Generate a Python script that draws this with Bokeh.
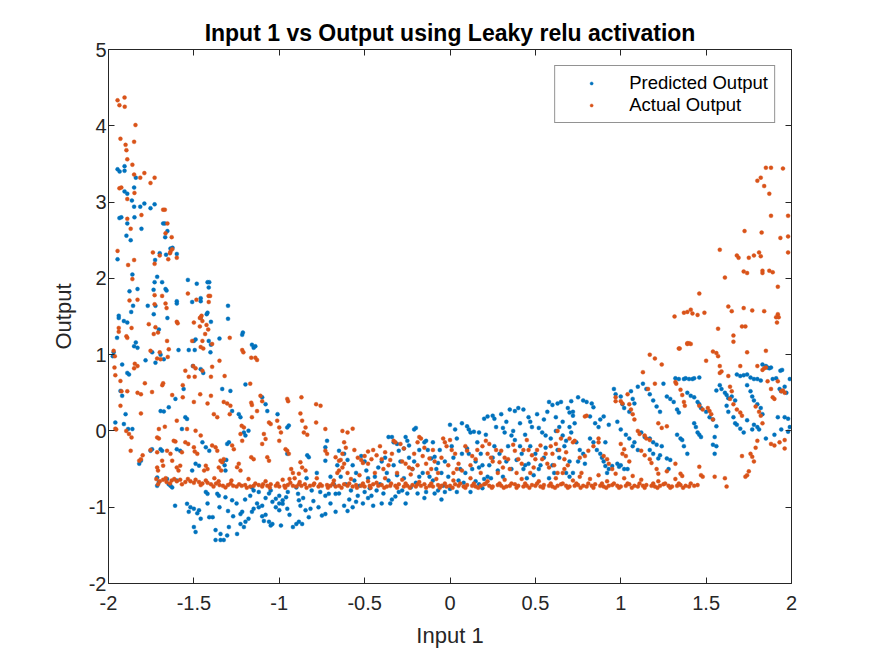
from bokeh.plotting import figure
from bokeh.models import Range1d, FixedTicker, LinearAxis, ColumnDataSource
from bokeh.embed import file_html
from bokeh.resources import INLINE

title_text = "Input 1 vs Output using Leaky relu activation"
x_label = "Input 1"
y_label = "Output"
series_names = ["Predicted Output", "Actual Output"]
series_colors = ["#0072BD", "#D95319"]
x_ticks = [-2, -1.5, -1, -0.5, 0, 0.5, 1, 1.5, 2]
x_tick_labels = ["-2", "-1.5", "-1", "-0.5", "0", "0.5", "1", "1.5", "2"]
y_ticks = [-2, -1, 0, 1, 2, 3, 4, 5]
y_tick_labels = ["-2", "-1", "0", "1", "2", "3", "4", "5"]

# Predicted output (blue), (input 1, output) pairs
pred_left = [
    (-1.947,3.43),(-1.935,3.40),(-1.906,3.47),(-1.906,3.41),(-1.84,3.32),(-1.85,3.19),(-1.906,3.14),(-1.89,3.11),
    (-1.863,3.02),(-1.85,2.94),(-1.814,2.94),(-1.79,2.98),(-1.754,2.92),(-1.73,2.97),(-1.936,2.79),(-1.925,2.80),
    (-1.89,2.72),(-1.848,2.80),(-1.807,2.65),(-1.895,2.56),(-1.87,2.50),(-1.68,2.72),(-1.67,2.72),(-1.655,2.62),
    (-1.668,2.54),(-1.637,2.39),(-1.625,2.40),(-1.663,2.31),(-1.60,2.32),(-1.70,2.33),(-1.727,2.24),(-1.947,2.25),
    (-1.86,2.05),(-1.715,2.02),(-1.73,1.95),(-1.686,1.95),(-1.535,1.98),(-1.483,1.93),(-1.42,1.95),(-1.41,1.95),
    (-1.413,1.88),(-1.877,1.83),(-1.83,1.86),(-1.666,1.86),(-1.66,1.84),(-1.736,1.85),(-1.60,1.70),(-1.60,1.67),
    (-1.51,1.69),(-1.46,1.74),(-1.46,1.70),(-1.77,1.64),(-1.725,1.64),(-1.856,1.64),(-1.867,1.56),(-1.94,1.51),
    (-1.42,1.55),(-1.425,1.53),(-1.30,1.64),(-1.735,1.53),(-1.655,1.48),(-1.30,1.47),
    (-1.94,1.48),(-1.91,1.44),(-1.89,1.42),(-1.95,1.22),(-1.85,1.11),(-1.84,1.16),(-1.83,1.09),(-1.97,1.03),
    (-1.975,0.98),(-1.92,0.87),(-1.89,0.76),(-1.88,0.74),(-1.783,0.925),(-1.744,1.03),(-1.695,1.00),(-1.676,0.94),
    (-1.725,0.895),(-1.705,1.33),(-1.50,1.18),(-1.49,1.20),(-1.495,1.06),(-1.53,1.06),(-1.59,1.06),(-1.46,1.48),
    (-1.40,1.43),(-1.413,1.18),(-1.40,1.13),(-1.35,1.21),(-1.403,1.03),(-1.506,0.85),(-1.46,0.81),(-1.445,0.76),
    (-1.56,0.55),(-1.608,0.42),(-1.647,0.31),(-1.695,0.26),(-1.676,0.255),(-1.93,0.525),(-1.92,0.46),(-1.90,0.22),
    (-1.96,0.11),(-1.91,0.09),(-1.885,0.025),(-1.86,0.025),(-1.82,-0.43),(-1.81,-0.39),(-1.754,-0.26),(-1.745,-0.24),
    (-1.695,-0.24),(-1.686,-0.26),(-1.715,-0.61),(-1.715,-0.72),(-1.705,-0.67),(-1.657,-0.63),(-1.647,-0.70),(-1.60,-0.65),
    (-1.61,-0.98),(-1.54,-0.955),(-1.52,-1.0),(-1.50,-1.02),(-1.53,-1.06),(-1.48,-1.08),(-1.47,-1.04),(-1.50,-1.26),
    (-1.49,-1.325),(-1.46,-1.15),(-1.41,-1.13),(-1.39,-1.13),(-1.373,-1.30),(-1.344,-1.35),(-1.373,-1.43),(-1.344,-1.43),
    (-1.325,-1.43),(-1.305,-1.37),(-1.295,-1.26),(-1.247,-1.35),(-1.227,-1.22),(-1.207,-1.26),(-1.198,-1.19),(-1.227,-1.09),
    (-1.217,-1.06),(-1.16,-1.06),(-1.15,-1.02),(-1.10,-1.12),(-1.08,-1.10),(-1.09,-1.18),(-1.06,-1.19),(-1.05,-1.24),
    (-1.04,-1.22),(-1.17,-0.85),(-1.16,-0.74),(-1.15,-0.78),(-1.04,-0.93),(-1.02,-0.89),(-1.0,-0.85),(-0.98,-0.91),
    (-0.96,-0.87),(-1.02,-1.0),(-1.0,-1.04),(-0.98,-0.955),(-0.953,-1.02),(-0.99,-1.24),(-0.92,-1.26),(-0.90,-1.22),
    (-0.885,-1.19),(-0.866,-1.22),(-0.90,-0.74),(-0.89,-0.825),(-0.885,-0.91),(-0.876,-0.98),(-0.846,-1.04),(-0.827,-1.13),
    (-0.817,-1.02),(-0.77,-1.0),(-0.75,-1.11),(-0.73,-1.09),(-0.67,-1.06),(-0.81,-0.78),(-0.73,-0.85),(-0.71,-0.825),
    (-0.67,-0.825),(-0.836,-0.32),(-0.827,-0.345),(-0.73,-0.39),(-0.65,-0.26),(-0.72,-0.13),(-0.73,-0.215),(-0.953,-0.30),
    (-0.944,0.07),(-0.953,0.046),(-1.01,0.22),(-1.07,0.26),(-1.08,0.35),(-1.10,0.44),(-1.16,1.13),(-1.15,1.09),
    (-1.14,1.11),(-1.217,1.26),(-1.213,1.29),(-1.198,0.61),(-1.276,0.26),(-1.286,0.525),(-1.334,0.55),(-1.237,0.22),
    (-1.227,0.18),(-1.18,0.003),(-1.207,-0.02),(-1.198,-0.06),(-1.295,-0.15),(-1.305,-0.17),(-1.33,-0.40),(-1.32,-0.45),
    (-1.31,-0.38),(-1.315,-0.52),(-1.45,-0.15),(-1.43,-0.215),(-1.41,-0.26),(-1.57,0.025),(-1.55,0.18),(-1.54,0.157),
    (-1.60,-0.24),(-1.58,-0.26),(-1.49,-0.43),(-1.47,-0.455),(-1.51,-0.52),(-1.637,-0.72),(-1.627,-0.74),(-1.43,-0.80),
    (-1.42,-0.825),(-1.354,-0.85),(-1.363,-0.825),(-1.315,-0.87),(-1.276,-0.91),(-1.25,-0.95),(-1.20,-0.90),(-1.13,-0.95),
    (-1.10,-0.98),(-1.08,-0.88),(-1.12,-0.80),(-1.05,-0.78),(-1.30,-1.05),(-1.35,-1.0),(-1.27,-1.12),(-1.42,-0.95),
    (-0.78,-0.55),(-0.70,-0.60),(-0.66,-0.45),
    (-1.12,-1.0),(-1.0,-0.95),(-0.94,-1.1),(-0.86,-0.88),(-0.80,-0.92),(-0.76,-0.80),(-0.70,-0.95),(-0.68,-0.70),
    (-1.06,-0.82),(-1.18,-1.15),(-0.95,-0.80),(-0.84,-0.62),
]
pred_mid = [
    (-0.65,-0.82),(-0.62,-0.98),(-0.60,-1.05),(-0.57,-1.0),(-0.55,-0.93),(-0.54,-0.85),(-0.59,-0.90),
    (-0.62,-0.30),(-0.60,-0.38),(-0.57,-0.45),(-0.55,-0.55),(-0.52,-0.33),(-0.50,-0.40),(-0.49,-0.52),(-0.48,-0.62),
    (-0.47,-0.75),(-0.46,-0.85),(-0.45,-0.98),(-0.48,-0.88),(-0.43,-0.78),(-0.40,-0.95),(-0.39,-0.82),
    (-0.36,-0.08),(-0.34,-0.08),(-0.33,-0.15),(-0.31,-0.17),(-0.30,-0.26),(-0.27,-0.23),(-0.26,-0.08),(-0.25,-0.13),
    (-0.24,-0.19),(-0.35,-0.95),(-0.34,-0.90),(-0.32,-0.86),(-0.30,-0.80),(-0.28,-0.78),(-0.25,-0.82),(-0.23,-0.74),
    (-0.19,-0.82),(-0.21,0.02),(-0.20,0.04),(-0.15,-0.15),(-0.14,-0.13),(-0.11,-0.36),(-0.09,-0.34),(-0.07,-0.42),
    (-0.09,-0.82),(-0.07,-0.78),(-0.04,-0.72),(-0.03,-0.80),(0.0,-0.76),(0.04,-0.80),
    (0.0,0.08),(0.03,0.02),(0.07,0.10),(0.10,0.06),(0.12,-0.02),(0.14,-0.01),(0.17,-0.02),
    (0.10,-0.23),(0.11,-0.30),(0.15,-0.40),(0.17,-0.48),(0.19,-0.45),(0.15,-0.66),(0.17,-0.70),(0.20,-0.63),(0.22,-0.60),
    (0.20,0.16),(0.22,0.19),(0.25,0.20),(0.26,0.16),(0.30,0.22),(0.31,0.04),(0.32,-0.02),(0.36,-0.06),(0.38,-0.12),
    (0.41,-0.20),(0.35,0.28),(0.38,0.26),(0.40,0.30),(0.43,0.28),(0.46,0.18),(0.47,0.12),
    (0.43,-0.50),(0.44,-0.45),(0.46,-0.43),(0.49,-0.58),(0.52,-0.50),(0.52,0.04),(0.54,-0.02),(0.56,-0.06),
    (0.58,0.38),(0.60,0.34),(0.63,0.36),(0.65,0.38),(0.62,0.18),(0.64,0.05),(0.66,-0.06),(0.68,-0.13),(0.70,0.24),(0.72,0.20),
    (-0.40,-0.40),(-0.37,-0.55),(-0.22,-0.50),(-0.18,-0.60),(-0.05,-0.55),(0.02,-0.35),(0.06,-0.50),(0.25,-0.35),
    (0.28,-0.52),(0.33,-0.40),(0.55,-0.35),(0.60,-0.45),(0.63,-0.25),(0.58,-0.62),(0.68,-0.55),(0.70,-0.40),
    (-0.10,-0.65),(-0.15,-0.88),(0.08,-0.68),(0.12,-0.80),
    (-0.64,-0.60),(-0.61,-0.70),(-0.58,-0.78),(-0.56,-0.65),(-0.53,-0.72),(-0.51,-0.95),(-0.50,-0.80),(-0.44,-0.60),
    (-0.42,-0.48),(-0.41,-0.70),(-0.38,-0.35),(-0.36,-0.65),(-0.33,-0.45),(-0.31,-0.58),(-0.29,-0.40),(-0.27,-0.62),
    (-0.26,-0.95),(-0.24,-0.35),(-0.21,-0.40),(-0.20,-0.68),(-0.18,-0.25),(-0.16,-0.55),(-0.14,-0.80),(-0.13,-0.25),
    (-0.12,-0.60),(-0.10,-0.15),(-0.08,-0.50),(-0.06,-0.25),(-0.05,-0.90),(-0.03,-0.40),(-0.01,-0.60),(0.01,-0.20),
    (0.04,-0.10),(0.05,-0.65),(0.07,-0.30),(0.09,-0.55),(0.11,0.02),(0.13,-0.50),(0.16,-0.15),(0.18,-0.30),
    (0.19,-0.75),(0.21,-0.05),(0.23,-0.45),(0.24,-0.62),(0.26,-0.20),(0.27,0.05),(0.29,-0.30),(0.31,-0.60),
    (0.33,0.12),(0.34,-0.20),(0.36,-0.50),(0.37,0.00),(0.39,-0.38),(0.41,0.10),(0.42,-0.30),(0.44,-0.05),
    (0.45,-0.62),(0.47,-0.20),(0.48,0.05),(0.50,-0.30),(0.51,0.22),(0.53,-0.45),(0.55,0.15),(0.56,-0.22),
    (0.57,0.25),(0.59,-0.10),(0.61,-0.55),(0.62,0.00),(0.64,-0.35),(0.66,0.12),(0.67,-0.20),(0.69,0.30),(0.70,-0.60),
]
pred_right = [
    (0.71,0.39),(0.72,0.25),(0.70,0.05),(0.71,-0.02),(0.73,0.10),(0.75,0.44),(0.78,0.40),(0.80,0.38),(0.84,0.31),
    (0.83,0.36),(0.74,-0.15),(0.76,-0.25),(0.78,-0.30),(0.75,-0.40),(0.79,-0.43),(0.72,-0.55),(0.82,0.19),(0.85,0.10),
    (0.87,0.05),(0.88,0.15),(0.90,0.19),(0.93,0.08),(0.82,-0.10),(0.84,-0.15),(0.86,-0.25),(0.88,-0.30),(0.89,-0.35),
    (0.91,-0.15),(0.90,-0.40),(0.92,-0.55),(0.93,-0.50),(0.96,0.55),(0.97,0.48),(1.00,0.45),(1.01,0.35),(1.02,0.30),
    (1.05,0.25),(1.06,0.52),(1.07,0.42),(1.08,0.36),(0.98,0.12),(1.00,0.02),(1.03,-0.05),(1.05,-0.10),(1.07,-0.20),
    (1.08,-0.15),(1.10,-0.25),(0.98,-0.43),(1.00,-0.45),(1.02,-0.50),(1.04,-0.50),(1.10,0.58),(1.13,0.62),(1.15,0.55),
    (1.17,0.48),(1.19,0.40),(1.21,0.32),(1.23,0.25),(1.25,0.62),(1.12,-0.02),(1.14,-0.08),(1.17,-0.10),(1.19,-0.15),
    (1.21,-0.18),(1.24,-0.20),(1.17,-0.25),(1.19,-0.30),(1.22,-0.36),(1.23,-0.32),(1.27,-0.36),(1.29,-0.38),
    (1.27,0.45),(1.29,0.42),(1.31,0.38),(1.33,0.28),(1.34,0.24),(1.33,-0.05),(1.35,-0.10),(1.36,-0.12),(1.37,-0.20),
    (1.39,-0.30),(1.32,0.69),(1.34,0.68),(1.37,0.68),(1.38,0.69),(1.40,0.68),(1.42,0.68),(1.43,0.69),(1.46,0.70),
    (1.39,0.50),(1.41,0.46),(1.43,0.44),(1.45,0.38),(1.46,0.35),(1.47,0.30),(1.43,0.10),(1.44,0.05),(1.45,-0.02),
    (1.46,-0.05),(1.47,-0.08),(1.50,0.25),(1.52,0.18),(1.54,0.15),(1.56,0.06),(1.55,-0.08),(1.56,-0.20),(1.54,-0.18),
    (1.56,0.53),(1.58,0.60),(1.59,0.55),(1.61,0.50),(1.62,0.47),(1.63,0.43),(1.65,0.45),(1.67,0.40),(1.62,0.33),
    (1.63,0.25),(1.66,0.18),(1.67,0.10),(1.68,0.08),(1.70,0.03),(1.72,-0.02),(1.68,0.74),(1.70,0.72),(1.72,0.73),
    (1.74,0.74),(1.76,0.70),(1.78,0.68),(1.80,0.68),(1.82,0.66),(1.74,0.60),(1.76,0.52),(1.77,0.45),(1.78,0.40),
    (1.80,0.35),(1.82,0.30),(1.83,0.22),(1.74,0.14),(1.78,0.08),(1.80,0.05),(1.81,0.02),(1.77,0.02),(1.83,0.87),
    (1.85,0.85),(1.86,0.83),(1.87,0.82),(1.88,0.83),(1.89,0.68),(1.91,0.69),(1.93,0.55),(1.94,0.52),(1.96,0.58),
    (1.97,0.50),(1.99,0.68),(1.92,0.18),(1.96,0.18),(1.98,0.16),(1.94,0.02),(1.98,-0.01),(1.935,0.79),(1.945,0.80),
    (1.85,-0.10),(1.90,-0.05),(1.99,0.05),(0.91,-0.46),(0.95,-0.46),(0.99,-0.47),(1.28,-0.50),(1.55,-0.30),
]

# Actual output (orange)
act_left = [
    (-1.947,4.334),(-1.906,4.37),(-1.936,4.27),(-1.905,4.25),(-1.842,4.01),(-1.93,3.83),(-1.85,3.79),(-1.90,3.75),
    (-1.895,3.68),(-1.89,3.56),(-1.86,3.49),(-1.85,3.36),(-1.814,3.32),(-1.79,3.38),(-1.73,3.32),(-1.754,3.25),
    (-1.936,3.18),(-1.925,3.19),(-1.848,3.12),(-1.89,3.04),(-1.807,2.83),(-1.89,2.78),(-1.68,2.90),(-1.67,2.90),
    (-1.655,2.72),(-1.87,2.65),(-1.666,2.59),(-1.63,2.54),(-1.637,2.35),(-1.64,2.33),(-1.65,2.25),(-1.627,2.38),
    (-1.60,2.27),(-1.947,2.36),(-1.74,2.34),(-1.70,2.30),(-1.73,2.19),(-1.85,2.24),(-1.885,2.175),(-1.86,1.99),
    (-1.877,1.71),(-1.83,1.72),(-1.73,1.78),(-1.686,1.77),(-1.73,1.66),(-1.666,1.67),(-1.66,1.61),(-1.535,1.80),
    (-1.485,1.72),(-1.414,1.77),(-1.405,1.77),(-1.413,1.69),(-1.46,1.49),(-1.455,1.51),
    (-1.94,1.35),(-1.94,1.30),(-1.865,1.35),(-1.895,1.24),(-1.89,1.22),(-1.764,1.40),(-1.725,1.36),(-1.71,1.29),
    (-1.735,1.27),(-1.657,1.18),(-1.60,1.43),(-1.595,1.41),(-1.50,1.42),(-1.465,1.48),(-1.45,1.44),(-1.465,1.37),
    (-1.426,1.39),(-1.416,1.33),(-1.434,1.27),(-1.45,1.18),(-1.445,1.08),(-1.46,1.10),(-1.393,1.14),(-1.29,1.22),
    (-1.51,1.18),(-1.97,1.05),(-1.963,0.98),(-1.965,0.83),(-1.96,0.73),(-1.846,0.88),(-1.85,0.82),(-1.83,0.85),
    (-1.754,1.05),(-1.70,1.03),(-1.715,0.95),(-1.695,0.94),(-1.653,0.97),(-1.647,1.07),(-1.504,0.85),(-1.49,0.82),
    (-1.55,0.79),(-1.53,0.71),(-1.495,0.71),(-1.45,0.79),(-1.393,0.84),(-1.40,0.71),(-1.35,0.92),(-1.32,0.72),
    (-1.217,1.06),(-1.21,1.03),(-1.164,0.96),(-1.14,0.96),(-1.13,0.93),(-1.17,0.62),(-1.164,0.37),(-1.16,0.34),
    (-1.787,0.625),(-1.83,0.50),(-1.81,0.48),(-1.745,0.51),(-1.68,0.625),(-1.685,0.60),(-1.93,0.655),(-1.924,0.52),
    (-1.89,0.52),(-1.93,0.33),(-1.81,0.23),(-1.565,0.60),(-1.565,0.44),(-1.627,0.47),(-1.50,0.38),(-1.463,0.48),
    (-1.40,0.46),(-1.42,0.36),(-1.383,0.22),(-1.363,0.18),(-1.325,0.38),(-1.305,0.36),(-1.286,0.33),(-1.29,0.22),
    (-1.96,0.03),(-1.955,0.02),(-1.896,0.00),(-1.865,-0.085),(-1.88,-0.04),(-1.87,-0.26),(-1.81,-0.37),(-1.82,-0.39),
    (-1.80,-0.32),(-1.754,-0.25),(-1.715,-0.28),(-1.715,-0.48),(-1.71,-0.52),(-1.686,-0.39),(-1.68,-0.455),(-1.657,-0.26),
    (-1.627,-0.39),(-1.637,-0.30),(-1.60,-0.48),(-1.59,-0.52),(-1.58,-0.455),(-1.618,-0.13),(-1.608,-0.14),(-1.60,0.135),
    (-1.67,0.055),(-1.705,0.025),(-1.715,-0.085),(-1.705,-0.10),(-1.55,-0.15),(-1.533,-0.17),(-1.57,-0.28),(-1.54,0.025),
    (-1.49,0.003),(-1.46,-0.06),(-1.50,-0.215),(-1.495,-0.27),(-1.48,-0.30),(-1.43,-0.455),(-1.42,-0.50),(-1.44,-0.52),
    (-1.393,-0.19),(-1.373,-0.215),(-1.363,-0.26),(-1.344,-0.39),(-1.334,-0.41),(-1.325,-0.37),(-1.354,-0.48),(-1.34,-0.52),
    (-1.276,-0.19),(-1.266,-0.24),(-1.237,-0.43),(-1.247,-0.475),(-1.227,-0.52),(-1.217,-0.13),(-1.227,-0.04),(-1.207,0.046),
    (-1.22,0.067),(-1.16,0.18),(-1.164,-0.345),(-1.15,-0.37),(-1.11,0.46),(-1.10,0.39),(-1.13,0.26),(-1.06,0.11),
    (-1.05,0.09),(-1.012,0.135),(-1.09,-0.04),(-1.08,-0.105),(-1.10,-0.17),(-1.07,-0.345),(-1.06,-0.39),(-1.00,0.046),
    (-0.99,-0.02),(-1.00,-0.13),(-0.953,0.42),(-0.948,0.39),(-0.87,0.44),(-0.876,0.23),(-0.866,0.135),(-0.846,0.046),
    (-0.963,-0.24),(-0.953,-0.26),(-0.944,-0.30),(-0.856,-0.02),(-0.836,-0.05),(-0.784,0.35),(-0.758,0.33),(-0.784,0.11),
    (-0.73,0.025),(-0.73,-0.26),(-0.72,-0.30),(-0.67,-0.345),(-0.65,-0.39),(-0.876,-0.41),(-0.866,-0.48),(-0.846,-0.52),
    (-0.885,-0.56),(-0.93,-0.50),(-0.92,-0.55),(-0.91,-0.62),(-0.94,-0.63),
]
act_floor = [
    (-1.72,-0.63),(-1.70,-0.66),(-1.68,-0.64),(-1.66,-0.67),(-1.63,-0.65),(-1.60,-0.66),(-1.58,-0.64),(-1.55,-0.67),
    (-1.52,-0.66),(-1.50,-0.68),(-1.47,-0.67),(-1.45,-0.69),(-1.42,-0.68),(-1.40,-0.70),(-1.37,-0.69),(-1.35,-0.71),
    (-1.33,-0.72),(-1.30,-0.71),(-1.27,-0.72),(-1.25,-0.73),(-1.22,-0.72),(-1.20,-0.71),(-1.17,-0.73),(-1.15,-0.72),
    (-1.12,-0.71),(-1.10,-0.73),(-1.07,-0.72),(-1.05,-0.70),(-1.02,-0.72),(-1.00,-0.73),(-0.97,-0.72),(-0.95,-0.71),
    (-0.92,-0.72),(-0.90,-0.73),(-0.87,-0.72),(-0.85,-0.70),(-0.82,-0.72),(-0.80,-0.71),(-0.77,-0.73),(-0.75,-0.72),
    (-0.72,-0.71),(-0.70,-0.72),(-0.67,-0.73),(-0.65,-0.72),(-0.62,-0.70),(-0.60,-0.72),(-0.57,-0.73),(-0.55,-0.71),
    (-0.52,-0.72),(-0.50,-0.73),(-0.47,-0.72),(-0.45,-0.70),(-0.42,-0.72),(-0.40,-0.71),(-0.37,-0.73),(-0.35,-0.72),
    (-0.32,-0.72),(-0.30,-0.70),(-0.27,-0.73),(-0.25,-0.72),(-0.22,-0.71),(-0.20,-0.73),(-0.17,-0.72),(-0.15,-0.70),
    (-0.12,-0.72),(-0.10,-0.73),(-0.07,-0.71),(-0.05,-0.72),(-0.02,-0.73),(0.00,-0.72),(0.03,-0.70),(0.05,-0.72),
    (0.08,-0.73),(0.10,-0.71),(0.13,-0.72),(0.15,-0.73),(0.18,-0.72),(0.20,-0.70),(0.23,-0.72),(0.25,-0.73),
    (0.28,-0.71),(0.30,-0.72),(0.33,-0.73),(0.35,-0.72),(0.38,-0.70),(0.40,-0.72),(0.43,-0.73),(0.45,-0.72),
    (0.48,-0.71),(0.50,-0.72),(0.53,-0.73),(0.55,-0.71),(0.58,-0.72),(0.60,-0.73),(0.63,-0.72),(0.65,-0.70),
    (0.68,-0.72),(0.70,-0.73),(0.73,-0.72),(0.75,-0.71),(0.78,-0.72),(0.80,-0.73),(0.83,-0.72),(0.85,-0.70),
    (0.88,-0.72),(0.90,-0.73),(0.93,-0.72),(0.95,-0.71),(0.98,-0.72),(1.00,-0.73),(1.03,-0.72),(1.05,-0.70),
    (1.08,-0.72),(1.10,-0.73),(1.13,-0.72),(1.15,-0.71),(1.18,-0.72),(1.20,-0.73),(1.23,-0.72),(1.25,-0.70),
    (1.28,-0.72),(1.30,-0.73),(1.33,-0.72),(1.35,-0.71),(1.38,-0.72),(1.40,-0.73),
    (-1.38,-0.62),(-1.28,-0.65),(-1.18,-0.63),(-1.08,-0.66),(-0.98,-0.64),(-0.88,-0.67),(-0.78,-0.62),(-0.68,-0.65),
    (-0.58,-0.63),(-0.48,-0.66),(-0.38,-0.62),(-0.28,-0.64),(-0.18,-0.67),(-0.08,-0.63),(0.02,-0.65),(0.12,-0.62),
    (0.22,-0.66),(0.32,-0.64),(0.42,-0.63),(0.52,-0.66),(0.62,-0.62),(0.72,-0.65),(0.82,-0.63),(0.92,-0.66),
    (1.02,-0.62),(1.12,-0.64),(1.22,-0.66),(1.32,-0.63),(0.77,-0.55),(0.87,-0.58),(0.97,-0.56),(1.07,-0.59),
    (0.63,-0.55),(0.76,-0.60),
    (-1.71,-0.70),(-1.665,-0.62),(-1.64,-0.69),(-1.615,-0.63),(-1.57,-0.70),(-1.535,-0.63),(-1.49,-0.64),(-1.46,-0.71),
    (-1.43,-0.65),(-1.385,-0.73),(-1.355,-0.66),(-1.315,-0.74),(-1.285,-0.69),(-1.235,-0.70),(-1.19,-0.745),(-1.14,-0.69),
    (-1.095,-0.70),(-1.055,-0.745),(-1.01,-0.69),(-0.965,-0.745),(-0.935,-0.68),(-0.885,-0.70),(-0.84,-0.745),(-0.795,-0.69),
    (-0.76,-0.70),(-0.715,-0.745),(-0.685,-0.69),(-0.635,-0.745),(-0.59,-0.69),(-0.545,-0.745),(-0.51,-0.69),(-0.465,-0.745),
    (-0.43,-0.68),(-0.385,-0.745),(-0.345,-0.69),(-0.31,-0.745),(-0.26,-0.69),(-0.235,-0.745),(-0.19,-0.70),(-0.14,-0.745),
    (-0.11,-0.69),(-0.06,-0.745),(-0.03,-0.69),(0.015,-0.745),(0.06,-0.69),(0.09,-0.745),(0.14,-0.69),(0.165,-0.745),
    (0.21,-0.69),(0.245,-0.745),(0.29,-0.69),(0.315,-0.745),(0.36,-0.69),(0.39,-0.745),(0.44,-0.69),(0.465,-0.745),
    (0.51,-0.69),(0.545,-0.745),(0.59,-0.69),(0.615,-0.745),(0.66,-0.69),(0.69,-0.745),(0.74,-0.69),(0.765,-0.745),
    (0.81,-0.69),(0.84,-0.745),(0.89,-0.69),(0.915,-0.745),(0.96,-0.69),(0.99,-0.745),(1.04,-0.69),(1.065,-0.745),
    (1.11,-0.69),(1.14,-0.745),(1.19,-0.69),(1.215,-0.745),(1.26,-0.69),(1.29,-0.745),(1.34,-0.69),(1.365,-0.745),
    (1.41,-0.69),(1.43,-0.72),(1.45,-0.71),
]
act_mid = [
    (-0.63,0.00),(-0.60,-0.02),(-0.57,0.03),(-0.62,-0.15),(-0.61,-0.22),(-0.63,-0.30),(-0.64,-0.38),(-0.62,-0.43),
    (-0.63,-0.48),(-0.65,-0.52),(-0.66,-0.55),(-0.54,-0.35),(-0.52,-0.38),(-0.50,-0.33),(-0.51,-0.42),(-0.48,-0.43),
    (-0.46,-0.37),(-0.48,-0.27),(-0.45,-0.25),(-0.43,-0.32),(-0.40,-0.37),(-0.38,-0.28),(-0.36,-0.45),(-0.35,-0.38),
    (-0.33,-0.13),(-0.32,-0.15),(-0.29,-0.17),(-0.27,-0.23),(-0.26,-0.43),(-0.24,-0.48),(-0.22,-0.50),(-0.23,-0.57),
    (-0.18,-0.08),(-0.17,-0.10),(-0.19,-0.15),(-0.16,-0.33),(-0.12,-0.36),(-0.14,-0.43),(-0.09,-0.40),(-0.11,-0.50),
    (-0.13,-0.55),(-0.04,-0.10),(-0.03,-0.15),(-0.02,-0.20),(0.00,-0.12),(0.03,-0.30),(0.05,-0.43),(0.04,-0.50),
    (0.02,-0.55),(0.09,-0.20),(0.10,-0.26),(0.13,-0.33),(0.15,-0.37),(0.19,-0.20),(0.21,-0.13),(0.23,-0.17),
    (0.22,-0.30),(0.24,-0.35),(0.25,-0.40),(0.30,-0.26),(0.32,-0.35),(0.34,-0.37),(0.29,-0.41),(0.31,-0.48),
    (0.37,-0.18),(0.38,-0.26),(0.40,-0.37),(0.42,-0.43),(0.45,-0.12),(0.46,-0.25),(0.48,-0.32),(0.50,-0.37),
    (0.49,-0.48),(0.53,-0.19),(0.54,-0.37),(0.57,-0.43),(0.58,-0.48),(0.60,-0.30),(0.62,-0.17),(0.63,0.00),
    (0.65,-0.10),(0.67,-0.37),(0.69,-0.45),(0.67,-0.50),
    (-0.60,-0.55),(-0.56,-0.25),(-0.53,-0.58),(-0.44,-0.55),(-0.41,-0.20),(-0.39,-0.50),(-0.34,-0.30),(-0.31,-0.55),
    (-0.28,-0.40),(-0.21,-0.30),(-0.19,-0.45),(-0.15,-0.22),(-0.10,-0.25),(-0.07,-0.55),(-0.05,-0.35),(-0.01,-0.45),
    (0.01,-0.25),(0.07,-0.52),(0.12,-0.45),(0.16,-0.25),(0.18,-0.55),(0.27,-0.25),(0.28,-0.55),(0.35,-0.50),
    (0.39,-0.55),(0.43,-0.25),(0.47,-0.55),(0.51,-0.25),(0.56,-0.30),(0.59,-0.20),(0.61,-0.45),(0.64,-0.25),
    (0.66,-0.55),(0.68,-0.28),(0.70,-0.10),
]
act_right = [
    (1.39,1.15),(1.40,1.15),(1.66,1.17),(1.34,1.08),(1.54,1.04),(1.56,1.02),(1.57,0.98),(1.50,0.92),(1.58,0.85),
    (1.59,0.78),(1.58,0.76),(1.70,0.85),(1.74,1.03),(1.85,1.05),(1.80,0.85),(1.85,0.83),(1.17,1.0),(1.20,0.95),
    (1.24,0.87),(1.13,0.77),(1.20,0.62),(1.16,0.55),(1.32,0.64),(1.325,0.62),(1.35,0.54),(1.36,0.47),(1.37,0.38),
    (1.375,0.33),(1.46,0.33),(1.48,0.28),(1.51,0.30),(1.52,0.26),(1.53,0.22),(1.54,0.15),(1.63,0.72),(1.64,0.58),
    (1.65,0.52),(1.64,0.42),(1.66,0.35),(1.68,0.28),(1.70,0.24),(1.71,0.20),(1.83,0.80),(1.84,0.82),(1.86,0.65),
    (1.88,0.55),(1.90,0.42),(1.89,0.44),(1.92,0.65),(1.94,0.52),(1.95,0.53),(1.96,0.50),(1.79,0.32),(1.81,0.25),
    (1.82,0.20),(1.83,0.10),(1.80,-0.13),(1.79,-0.22),(1.77,-0.34),(1.78,-0.40),(1.75,-0.53),(1.74,-0.58),
    (1.93,-0.15),(1.96,-0.23),(1.96,-0.12),(0.97,0.44),(0.97,0.39),(1.00,0.39),(1.01,0.36),(1.04,0.48),(1.05,0.35),
    (1.06,0.28),(1.07,0.22),(1.08,0.15),(1.10,0.00),(1.11,-0.04),(1.14,-0.06),(1.15,-0.10),(1.17,-0.12),(1.22,0.10),
    (1.24,0.04),(1.27,0.06),(1.00,-0.17),(1.02,-0.24),(1.01,-0.30),(1.03,-0.33),(1.05,-0.40),(1.12,-0.26),(1.14,-0.32),
    (1.17,-0.37),(1.18,-0.42),(1.21,-0.50),(1.22,-0.56),(1.27,-0.53),(1.32,-0.43),(1.35,-0.56),(1.36,-0.59),(1.46,-0.47),
    (1.47,-0.58),(1.48,-0.60),(1.55,-0.60),(1.61,-0.62),(1.62,-0.73),(1.71,-0.33),(1.76,-0.30),(1.73,-0.60),(1.88,-0.17),
    (1.90,-0.19),(0.72,-0.15),(0.73,-0.13),(0.76,-0.35),(0.79,-0.33),(0.81,-0.26),(0.84,-0.20),(0.87,-0.15),(0.87,-0.10),
    (0.90,-0.33),(0.92,-0.37),(0.93,-0.43),(0.95,-0.50),(0.79,0.19),(0.80,0.20),
    (1.85,3.45),(1.88,3.45),(1.95,3.44),(1.82,3.32),(1.80,3.28),(1.84,3.21),(1.87,3.11),(1.88,2.82),(1.98,2.82),
    (1.725,2.62),(1.825,2.60),(1.935,2.53),(1.98,2.55),(1.58,2.375),(1.81,2.34),(1.78,2.30),(1.75,2.27),(1.69,2.27),
    (1.68,2.30),(1.82,2.29),(1.98,2.34),(1.72,2.09),(1.74,2.07),(1.83,2.10),(1.87,2.10),(1.83,2.07),(1.89,2.08),
    (1.61,2.01),(1.92,1.89),(1.46,1.80),(1.63,1.63),(1.72,1.61),(1.77,1.58),(1.84,1.57),(1.65,1.57),(1.315,1.50),
    (1.37,1.55),(1.39,1.56),(1.41,1.59),(1.42,1.54),(1.45,1.52),(1.49,1.55),(1.92,1.53),(1.925,1.49),(1.91,1.49),
    (1.915,1.42),(1.57,1.34),(1.71,1.37),(1.73,1.37),(1.66,1.25),(1.39,1.14),(1.41,1.14),(1.345,1.08),
]

pred_pts = pred_left + pred_mid + pred_right
act_pts = act_left + act_floor + act_mid + act_right

FONT = "Liberation Sans"
AX = "#262626"

p = figure(width=860, height=650, output_backend="svg", toolbar_location=None,
           x_range=Range1d(-2, 2), y_range=Range1d(-2, 5),
           min_border_left=108, min_border_right=69, min_border_top=49, min_border_bottom=65,
           background_fill_color="white", border_fill_color="white")
p.outline_line_color = None
p.xgrid.visible = False
p.ygrid.visible = False

p.title.text = title_text
p.title.text_font = FONT
p.title.text_font_size = "23px"
p.title.text_font_style = "bold"
p.title.align = "center"
p.title.text_color = "#000000"
p.title.standoff = 7

src_pred = ColumnDataSource(dict(x=[a for a, b in pred_pts], y=[b for a, b in pred_pts]))
src_act = ColumnDataSource(dict(x=[a for a, b in act_pts], y=[b for a, b in act_pts]))
p.scatter("x", "y", source=src_pred, size=4.0, fill_color=series_colors[0], line_color=series_colors[0],
          line_width=0.4, legend_label=series_names[0])
p.scatter("x", "y", source=src_act, size=4.0, fill_color=series_colors[1], line_color=series_colors[1],
          line_width=0.4, legend_label=series_names[1])

def style_axis(ax, ticks, labels, show_labels):
    ax.ticker = FixedTicker(ticks=ticks)
    ax.major_label_overrides = {t: (l if show_labels else "") for t, l in zip(ticks, labels)}
    ax.minor_tick_line_color = None
    ax.major_tick_in = 6
    ax.major_tick_out = 0
    ax.axis_line_color = AX
    ax.major_tick_line_color = AX
    ax.axis_line_width = 1
    ax.major_label_text_font = FONT
    ax.major_label_text_font_size = "20px"
    ax.major_label_text_color = AX

xa = p.xaxis[0]
ya = p.yaxis[0]
style_axis(xa, x_ticks, x_tick_labels, True)
style_axis(ya, y_ticks, y_tick_labels, True)
xa.major_label_standoff = 12
ya.major_label_standoff = 2
xa.axis_label = x_label
ya.axis_label = y_label
for a in (xa, ya):
    a.axis_label_text_font = FONT
    a.axis_label_text_font_size = "22px"
    a.axis_label_text_font_style = "normal"
    a.axis_label_text_color = AX
xa.axis_label_standoff = 10
ya.axis_label_standoff = 10

top = LinearAxis()
right = LinearAxis()
style_axis(top, x_ticks, x_tick_labels, False)
style_axis(right, y_ticks, y_tick_labels, False)
top.major_label_text_font_size = "1px"
right.major_label_text_font_size = "1px"
p.add_layout(top, "above")
p.add_layout(right, "right")

lg = p.legend[0]
lg.location = "top_right"
lg.margin = 16
lg.padding = 6
lg.spacing = 0
lg.glyph_width = 60
lg.glyph_height = 8
lg.label_height = 22
lg.label_standoff = 8
lg.label_text_font = FONT
lg.label_text_font_size = "18.5px"
lg.label_text_color = "#000000"
lg.border_line_color = AX
lg.border_line_width = 1
lg.background_fill_color = "white"
lg.background_fill_alpha = 1

open("out.html", "w").write(file_html(p, INLINE))
